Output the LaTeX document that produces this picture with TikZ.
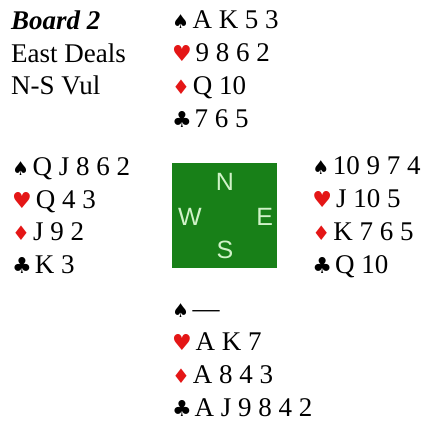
\documentclass[tikz,border=0pt]{standalone}
\usepackage{fontspec}
\setmainfont{Liberation Serif}
\newfontfamily\suitfont{DejaVu Sans}
\newfontfamily\compassfont{Liberation Sans}
\usetikzlibrary{positioning}
\definecolor{tablegreen}{RGB}{24,128,24}
\definecolor{suitred}{RGB}{228,22,22}
\definecolor{compasstext}{RGB}{208,242,200}
\newcommand{\spd}{{\suitfont\fontsize{19}{19}\selectfont ♠}\hspace{3.5pt}}
\newcommand{\hrt}{{\suitfont\fontsize{22}{22}\selectfont\color{suitred}♥}\hspace{4pt}}
\newcommand{\dmd}{{\suitfont\fontsize{20}{20}\selectfont\color{suitred}♦}\hspace{3pt}}
\newcommand{\clb}{{\suitfont\fontsize{22}{22}\selectfont ♣}\hspace{3pt}}
\newcommand{\hand}[4]{\begin{tabular}[t]{@{}l@{}}\spd#1\\\hrt#2\\\dmd#3\\\clb#4\end{tabular}}
\tikzset{
    hand/.style={anchor=base west, inner sep=0pt, font=\fontsize{27}{33}\selectfont},
    table/.style={fill=tablegreen, minimum size=105pt, inner sep=0pt},
    compass/.style={text=compasstext, inner sep=0pt, font=\compassfont\fontsize{25}{25}\selectfont}
}

\begin{document}
\begin{tikzpicture}[x=1pt, y=1pt]
    \useasboundingbox (0,0) rectangle (429,-423);
    % table with the four seats
    \node[table] (table) at (224.5,-215.5) { };
    \node[compass] (n) at ([xshift=0.5pt, yshift=-19.5pt]table.north) {N};
    \node[compass] (s) at ([xshift=0.5pt, yshift=18.5pt]table.south) {S};
    \node[compass] (w) at ([xshift=18pt, yshift=-1.5pt]table.west) {W};
    \node[compass] (e) at ([xshift=-12.5pt, yshift=-1.5pt]table.east) {E};
    % board info
    \node[hand] (info) at (11,-29) {\begin{tabular}[t]{@{}l@{}}\textbf{\textit{Board 2}}\\East Deals\\N-S Vul\end{tabular}};
    % hands
    \node[hand] (north) at ([yshift=134pt]table.north west) {\hand{A K 5 3}{9 8 6 2}{Q 10}{7 6 5}};
    \node[hand] (west) at (12,-175) {\hand{Q J 8 6 2}{Q 4 3}{J 9 2}{K 3}};
    \node[hand] (east) at ([xshift=35pt, yshift=-12pt]table.north east) {\hand{10 9 7 4}{J 10 5}{K 7 6 5}{Q 10}};
    \node[hand] (south) at ([yshift=-49pt]table.south west) {\hand{—}{A K 7}{A 8 4 3}{A J 9 8 4 2}};
\end{tikzpicture}
\end{document}
